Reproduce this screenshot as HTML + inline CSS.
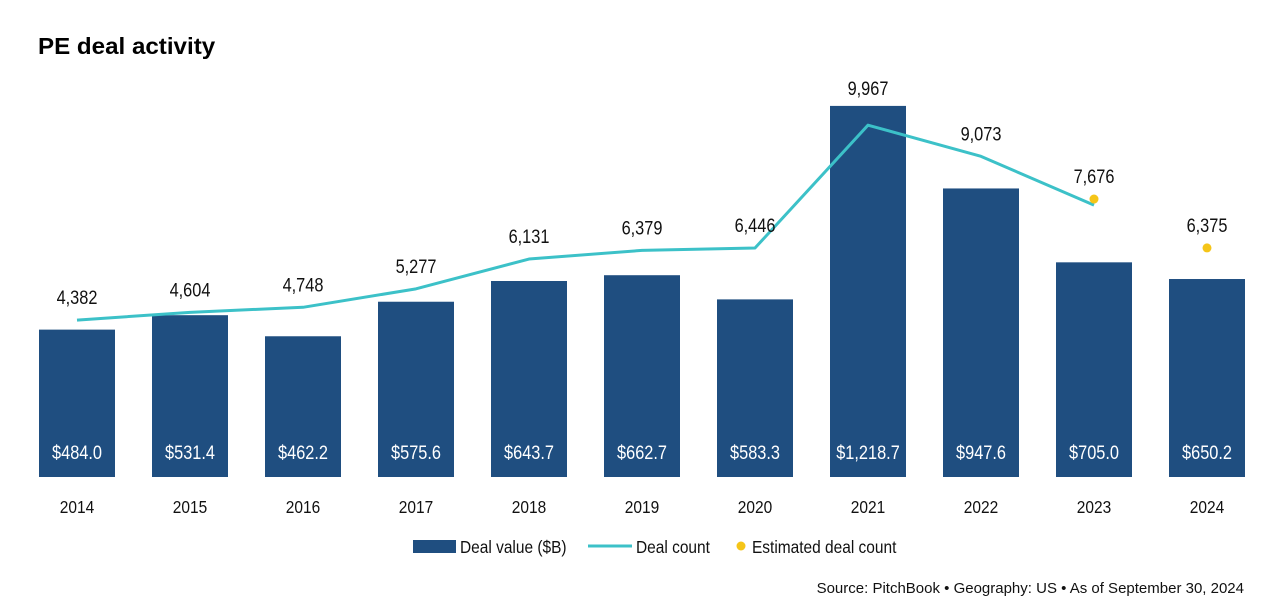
<!DOCTYPE html>
<html><head><meta charset="utf-8"><style>
html,body{margin:0;padding:0;background:#fff;}
body{width:1282px;height:608px;overflow:hidden;font-family:"Liberation Sans Narrow","Liberation Sans",sans-serif;}
</style></head><body>
<svg id="chart" width="1282" height="608" xmlns="http://www.w3.org/2000/svg">
<text transform="translate(38,54) scale(1.05,1)" font-family="Liberation Sans, sans-serif" font-weight="bold" font-size="23" fill="#000">PE deal activity</text>
<g id="bars"></g><g id="line"></g><g id="labels"></g>
<g font-size="18" fill="#111">
<rect x="413" y="540" width="43" height="13" fill="#1f4e80"/>
<text transform="translate(460,553) scale(0.86,1)">Deal value ($B)</text>
<line x1="588" y1="546" x2="632" y2="546" stroke="#3cc1c8" stroke-width="3"/>
<text transform="translate(636,553) scale(0.86,1)">Deal count</text>
<circle cx="741" cy="546" r="4.5" fill="#f5c518"/>
<text transform="translate(752,553) scale(0.86,1)">Estimated deal count</text>
</g>
<text x="1244" y="593" text-anchor="end" font-size="15" fill="#111">Source: PitchBook  •  Geography: US  •  As of September 30, 2024</text>
</svg>
<script>
const years=["2014","2015","2016","2017","2018","2019","2020","2021","2022","2023","2024"];
const dealValues=[484.0,531.4,462.2,575.6,643.7,662.7,583.3,1218.7,947.6,705.0,650.2];
const dealCounts=[4382,4604,4748,5277,6131,6379,6446,9967,9073,7676,6375];
const estimatedCounts=[null,null,null,null,null,null,null,null,null,7850,6450];
const NS="http://www.w3.org/2000/svg";
const base=477, x0=77, step=113, bw=76;
const xPos=i=>x0+i*step;
const yVal=v=>base-v*0.3045;
const yCnt=v=>473-v*0.0349;
function mk(tag,attrs,parent,txt){const e=document.createElementNS(NS,tag);for(const k in attrs)e.setAttribute(k,attrs[k]);if(txt!==undefined)e.textContent=txt;parent.appendChild(e);return e;}
const gb=document.getElementById('bars'),gl=document.getElementById('line'),gt=document.getElementById('labels');
years.forEach((y,i)=>{
 const top=yVal(dealValues[i]);
 const r=mk('rect',{x:xPos(i)-bw/2,y:top,width:bw,height:base-top,fill:"#1f4e80"},gb);
 
 
 const t=mk('text',{transform:"translate("+xPos(i)+",459) scale(0.86,1)","text-anchor":"middle","font-size":19,fill:"#fff"},gt,"$"+dealValues[i].toLocaleString('en-US',{minimumFractionDigits:1,maximumFractionDigits:1}));
 
 
 const yl=mk('text',{transform:"translate("+xPos(i)+",513) scale(0.86,1)","text-anchor":"middle","font-size":18,fill:"#111"},gt,y);
 
 
 const py=estimatedCounts[i]!=null?yCnt(estimatedCounts[i]):yCnt(dealCounts[i]);
 const ly=Math.min(py-16,top-11);
 const cl=mk('text',{transform:"translate("+xPos(i)+","+ly+") scale(0.86,1)","text-anchor":"middle","font-size":19,fill:"#111"},gt,dealCounts[i].toLocaleString('en-US'));
 
 
});
let pts=[];
for(let i=0;i<dealCounts.length;i++){ if(i<=9) pts.push(xPos(i)+","+yCnt(dealCounts[i])); }
const pl=mk('polyline',{points:pts.join(" "),fill:"none",stroke:"#3cc1c8","stroke-width":3,"stroke-linejoin":"round"},gl);


estimatedCounts.forEach((v,i)=>{ if(v==null)return;
 const c=mk('circle',{cx:xPos(i),cy:yCnt(v),r:4.5,fill:"#f5c518"},gl);
 
 
});
</script>
</body></html>
